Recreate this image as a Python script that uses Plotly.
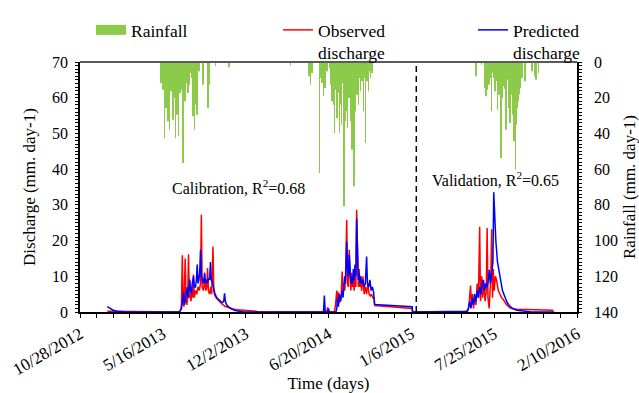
import pandas as pd
import plotly.graph_objects as go

# ---------------- data ----------------
BASE_DATE = "2012-10-28"
x_tick_dates = ["2012-10-28", "2013-05-16", "2013-12-02", "2014-06-20",
                "2015-01-06", "2015-07-25", "2016-02-10"]
x_tick_labels = ["10/28/2012", "5/16/2013", "12/2/2013", "6/20/2014",
                 "1/6/2015", "7/25/2015", "2/10/2016"]
split_date = "2015-01-18"

# rainfall (days since BASE_DATE, mm/day)
rain_day = [196, 198, 200, 202, 204, 206, 208, 210, 212, 214, 216, 218, 220, 222, 224, 226,
            228, 230, 232, 234, 236, 238, 240, 242, 244, 246, 249, 251, 253, 255, 257, 259,
            261, 263, 265, 267, 269, 271, 273, 275, 277, 279, 280, 283, 285, 287, 297, 309,
            311, 327, 360,
            508, 553, 556, 560, 578, 580, 584, 588, 591, 596, 602, 606, 608, 610, 612, 614,
            616, 618, 620, 622, 624, 626, 628, 630, 632, 634, 637, 639, 640, 642, 644, 646,
            648, 650, 652, 654, 657, 659, 661, 663, 665, 667, 669, 672, 674, 677, 679, 681,
            683, 685, 687, 689, 691, 693, 695, 697, 699, 701, 703, 705,
            956, 970, 978, 980, 982, 983, 985, 987, 989, 990, 992, 994, 996, 998, 1000, 1002,
            1004, 1006, 1008, 1010, 1012, 1014, 1016, 1018, 1020, 1022, 1024, 1026, 1028,
            1030, 1032, 1034, 1035, 1037, 1038, 1040, 1042, 1044, 1046, 1048, 1050, 1052,
            1054, 1056, 1058, 1060, 1062, 1064, 1067, 1075, 1091, 1097, 1101, 1107]
rain_mm = [11.8, 8, 15.5, 10, 42.6, 12, 25.8, 9, 33.2, 14, 37.9, 11, 16.4, 10, 32.3, 13,
           20.2, 42.6, 15, 29.5, 12, 41.6, 14, 17.4, 10, 15.5, 56.6, 12, 22, 9, 11.8, 8,
           17.4, 7, 12.7, 6, 9, 7, 30.4, 8, 37.9, 10, 23.9, 29.5, 5, 5.2, 12.7, 25.8,
           12.7, 2.4, 3,
           2, 8, 12.7, 6.2, 62.2, 9, 11.8, 19.2, 14.6, 5.2, 3.4, 12.7, 22, 8, 23.9, 39.8,
           10, 15.5, 31.4, 12, 17.4, 39.8, 14, 23.9, 35.1, 12, 80.8, 15, 33.2, 27.6, 14, 37,
           16, 20.2, 12, 33.2, 49.1, 15, 69.6, 12, 27.6, 10, 18.3, 23.9, 9, 16.4, 8, 10.8,
           6, 27.6, 9, 45.4, 7, 10.8, 6, 16.4, 5, 9, 4, 6.2,
           8, 1.5, 14.6, 19.2, 10, 15.5, 8, 12.7, 6, 9, 7, 27.6, 6, 9, 8, 16.4,
           7, 10.8, 26.7, 12, 18.3, 10, 53.8, 14, 20.2, 11, 13.6, 15, 37.9,
           14, 9.9, 18, 25.8, 20, 34.2, 22, 18.3, 25, 29.5, 44.4, 35, 60.3,
           35.1, 26, 22, 18, 14.6, 10, 9, 10.8, 5.2, 8, 9.9, 6.2]

# observed discharge (days since BASE_DATE, mm/day)
obs_day = [66, 100, 118, 120, 240, 243, 245, 247, 249, 251, 254, 256, 258, 260, 262, 264,
           266, 268, 270, 272, 274, 276, 279, 282, 285, 288, 291, 293, 295, 298, 301, 304,
           306, 308, 310, 313, 316, 318, 321, 323, 326, 330, 336, 342, 350, 358, 368, 380,
           395, 410, 425, 430,
           596, 598, 600, 614, 617, 620, 622, 624, 626, 628, 630, 633, 635, 637, 639, 641,
           644, 646, 648, 650, 652, 654, 656, 658, 660, 662, 664, 666, 668, 670, 672, 674,
           676, 678, 680, 683, 686, 689, 692, 695, 698, 701, 704, 707, 710, 712, 802, 803,
           930, 937, 940, 943, 945, 948, 950, 953, 956, 959, 962, 965, 967, 970, 972, 975,
           978, 981, 983, 985, 988, 990, 992, 994, 996, 998, 1000, 1003, 1006, 1010, 1014,
           1018, 1022, 1030, 1038, 1046, 1055, 1083, 1100, 1143]
obs_q = [0.2, 0.2, 0.1, 0, 0, 0.5, 2, 15.9, 2.5, 1.5, 15, 3, 2, 4, 16.2, 4,
         5, 3, 6, 4, 10.5, 4, 6, 5, 7, 6, 8, 27.2, 7, 6, 9, 6,
         7, 12.3, 6, 5, 7, 5, 18.3, 6, 4.5, 3.8, 3, 2.3, 1.6, 1.2, 0.9, 0.6,
         0.5, 0.4, 0.2, 0,
         0, 1.3, 0, 0, 2, 6, 2, 5.5, 2.5, 4, 3, 11.3, 5, 8, 6, 9,
         25.8, 8, 7, 17.4, 8, 6, 11, 7, 9, 6, 10, 7, 28.6, 9, 7, 12,
         7, 9, 6, 10, 5, 7, 5, 8, 5, 4.5, 5, 4, 4, 1.8, 1.0, 0,
         0, 0.5, 3, 7.4, 2, 5, 1, 4, 2, 8, 4, 23.9, 3, 10, 4, 8,
         3, 6, 23.5, 4, 1, 6, 10, 23.2, 4, 12, 6, 10, 8.8, 6, 5,
         4, 3.5, 2, 1.2, 0.9, 0.8, 0.8, 0.6, 0.5]

# predicted discharge (days since BASE_DATE, mm/day)
pred_day = [66, 72, 80, 90, 100, 110, 240, 243, 245, 250, 252, 254, 256, 259, 261, 263,
            265, 267, 269, 271, 274, 276, 279, 281, 283, 285, 287, 289, 291, 293, 295, 298,
            301, 303, 306, 308, 310, 313, 315, 317, 320, 323, 326, 331, 336, 340, 344, 347,
            349, 351, 354, 360, 366, 375, 385, 395,
            588, 590, 592, 598, 600, 602, 618, 620, 622, 624, 626, 628, 630, 633, 635, 637,
            639, 641, 644, 646, 648, 650, 652, 654, 656, 658, 660, 662, 664, 666, 668, 670,
            672, 674, 676, 678, 680, 683, 686, 689, 692, 694, 697, 700, 703, 706, 709, 711,
            802, 803,
            930, 935, 938, 941, 944, 947, 950, 953, 956, 959, 962, 965, 968, 971, 974, 977,
            980, 983, 986, 988, 991, 994, 997, 999, 1001, 1004, 1008, 1014, 1020, 1026, 1032,
            1038, 1046, 1055, 1070, 1090, 1145]
pred_q = [1.5, 1.0, 0.5, 0.2, 0.05, 0, 0, 0.5, 1, 5.5, 2, 3, 5, 7, 4, 6,
          9.1, 6, 5, 8, 10, 7, 7, 9, 13.3, 8, 9, 11, 17.4, 10, 9, 8,
          11, 8, 9, 8, 9.5, 9, 14, 9, 8, 6, 5, 3.9, 3.3, 3, 2.6, 3,
          5.2, 3, 2, 1.3, 0.8, 0.4, 0.15, 0,
          0, 4.6, 0, 0, 1, 0, 0, 1, 4, 1.5, 5, 3, 4, 6, 4, 7,
          10, 8, 19.7, 12, 10, 16, 9, 8, 10, 8, 12, 9, 13.3, 10, 26.2, 12,
          9, 11, 8, 10, 8, 9, 7, 8, 15.5, 8, 7, 9, 6, 7, 5.5, 2.1,
          1.5, 0,
          0, 0.2, 1, 3, 1, 4, 2, 5, 3, 6, 4, 7, 5, 8, 9, 6,
          8, 7, 9, 11.8, 8, 12, 14, 33.5, 26, 20, 14, 9.9, 6, 4.2, 2.5,
          1.6, 0.9, 0.5, 0.2, 0, 0]


def to_dates(days):
    return pd.Timestamp(BASE_DATE) + pd.to_timedelta(days, unit="D")


# ---------------- styling ----------------
W, H = 639, 393
ML, MR, MT, MB = 80, 62, 62, 81
PW, PH = W - ML - MR, H - MT - MB
FONT = "Liberation Serif"
GREEN = "#8CCB4A"
RED = "#FF0000"
BLUE = "#0000FF"
DAY_MS = 86400000
X_RANGE = [x_tick_dates[0], x_tick_dates[-1]]


def px_x(p):
    return (p - ML) / PW


def px_y(p):
    return (H - MB - p) / PH


fig = go.Figure()
fig.add_trace(go.Bar(x=to_dates(rain_day), y=rain_mm, yaxis="y", xaxis="x",
                     width=1.2 * DAY_MS, marker=dict(color=GREEN, line_width=0),
                     name="Rainfall", showlegend=False))
fig.add_trace(go.Scatter(x=[None], y=[None], mode="lines", yaxis="y",
                         line=dict(color=GREEN, width=10), name="Rainfall",
                         legend="legend"))
fig.add_trace(go.Scatter(x=to_dates(obs_day), y=obs_q, yaxis="y2", mode="lines",
                         line=dict(color=RED, width=1.5), name="Observed<br>discharge",
                         legend="legend2"))
fig.add_trace(go.Scatter(x=to_dates(pred_day), y=pred_q, yaxis="y2", mode="lines",
                         line=dict(color=BLUE, width=1.5), name="Predicted<br>discharge",
                         legend="legend3"))

tickfont = dict(family=FONT, size=16, color="black")
xtickfont = dict(family=FONT, size=17, color="black")
titlefont = dict(family=FONT, size=17, color="black")

common_x = dict(type="date", range=X_RANGE, tickmode="array", tickvals=x_tick_dates,
                showgrid=False, zeroline=False, tickcolor="black", tickwidth=1.2,
                ticklen=4, automargin=False)
fig.update_layout(
    width=W, height=H,
    margin=dict(l=ML, r=MR, t=MT, b=MB, pad=0, autoexpand=False),
    paper_bgcolor="white", plot_bgcolor="white",
    font=dict(family=FONT, color="black"),
    xaxis=dict(**common_x, ticktext=x_tick_labels, ticks="outside", tickangle=-30,
               tickfont=xtickfont, showline=True, linecolor="black", linewidth=1.5,
               minor=dict(dtick=40 * DAY_MS, tick0=BASE_DATE, ticks="outside",
                          ticklen=4, tickcolor="black", tickwidth=1.2),
               title=dict(text="Time (days)", font=titlefont, standoff=2)),
    xaxis2=dict(**common_x, overlaying="x", anchor="y", side="bottom", ticks="inside",
                showticklabels=False, showline=False,
                minor=dict(dtick=40 * DAY_MS, tick0=BASE_DATE, ticks="inside",
                           ticklen=4, tickcolor="black", tickwidth=1.2)),
    yaxis=dict(range=[140, 0], side="right", anchor="x", tick0=0, dtick=20,
               ticks="outside", ticklen=3, tickcolor="black", tickwidth=1.2,
               tickfont=tickfont, showline=True, linecolor="black", linewidth=1.5,
               showgrid=False, zeroline=False, automargin=False, ticklabelstandoff=9,
               minor=dict(dtick=2, ticks="outside", ticklen=3, tickcolor="black",
                          tickwidth=1),
               title=dict(text="Rainfall (mm. day-1)", font=titlefont, standoff=8)),
    yaxis2=dict(range=[0, 70], side="left", overlaying="y", anchor="x", tick0=0,
                dtick=10, ticks="outside", ticklen=3, tickcolor="black", tickwidth=1.2,
                tickfont=tickfont, showline=True, linecolor="black", linewidth=1.5,
                showgrid=False, zeroline=False, automargin=False, ticklabelstandoff=4,
                minor=dict(dtick=1, ticks="outside", ticklen=3, tickcolor="black",
                           tickwidth=1),
                title=dict(text="Discharge (mm. day-1)", font=titlefont, standoff=12)),
    yaxis3=dict(range=[0, 70], side="left", overlaying="y", anchor="x", tick0=0,
                dtick=10, ticks="inside", ticklen=3, tickcolor="black", tickwidth=1.2,
                showticklabels=False, showline=False, showgrid=False, zeroline=False,
                automargin=False,
                minor=dict(dtick=1, ticks="inside", ticklen=3, tickcolor="black",
                           tickwidth=1)),
    yaxis4=dict(range=[140, 0], side="right", overlaying="y", anchor="x", tick0=0,
                dtick=20, ticks="inside", ticklen=3, tickcolor="black", tickwidth=1.2,
                showticklabels=False, showline=False, showgrid=False, zeroline=False,
                automargin=False,
                minor=dict(dtick=2, ticks="inside", ticklen=3, tickcolor="black",
                           tickwidth=1)),
    barmode="overlay",
)

leg_common = dict(xanchor="left", yanchor="top", y=px_y(12), bgcolor="rgba(0,0,0,0)",
                  font=dict(family=FONT, size=17.5, color="black"), valign="top",
                  borderwidth=0)
fig.update_layout(
    legend=dict(**leg_common, x=px_x(91)),
    legend2=dict(**leg_common, x=px_x(278)),
    legend3=dict(**leg_common, x=px_x(473)),
)

fig.add_shape(type="line", xref="paper", yref="paper", x0=0, x1=1, y0=1, y1=1,
              line=dict(color="#5a5a5a", width=2))
fig.add_shape(type="line", xref="x", yref="paper", x0=split_date, x1=split_date,
              y0=0, y1=1, line=dict(color="black", width=1.5, dash="6px,4px"))

ann_font = dict(family=FONT, size=16, color="black")
fig.add_annotation(text="Calibration, R<sup>2</sup>=0.68", xref="paper", yref="paper",
                   x=px_x(238), y=px_y(187), xanchor="center", yanchor="middle",
                   showarrow=False, font=ann_font)
fig.add_annotation(text="Validation, R<sup>2</sup>=0.65", xref="paper", yref="paper",
                   x=px_x(495), y=px_y(179), xanchor="center", yanchor="middle",
                   showarrow=False, font=ann_font)

fig.write_html("out.html")
